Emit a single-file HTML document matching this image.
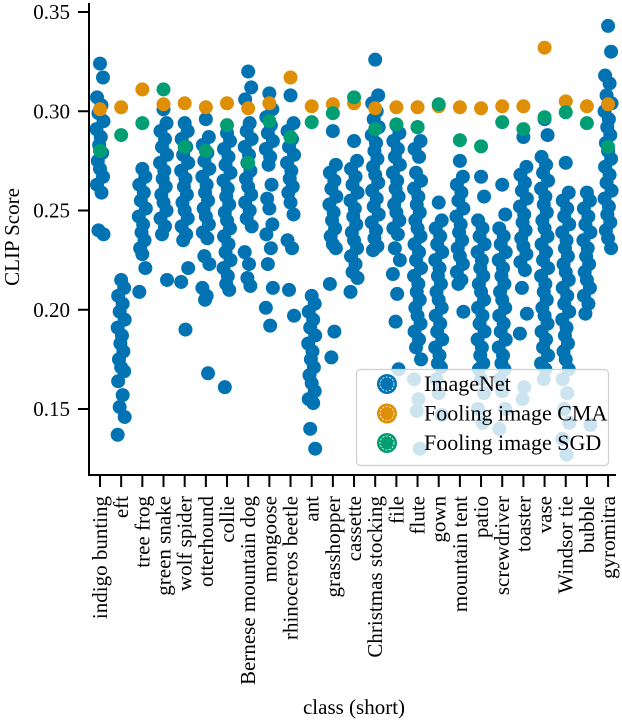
<!DOCTYPE html>
<html><head><meta charset="utf-8"><style>
html,body{margin:0;padding:0;background:#fff;}
svg{display:block;font-family:"Liberation Serif",serif;}
</style></head><body>
<svg id="chart" width="622" height="720" xmlns="http://www.w3.org/2000/svg">
<g id="points"></g>
<g id="axes"></g>
<g id="legend"></g>
</svg>
<script>
const categories = ["indigo bunting","eft","tree frog","green snake","wolf spider","otterhound","collie","Bernese mountain dog","mongoose","rhinoceros beetle","ant","grasshopper","cassette","Christmas stocking","file","flute","gown","mountain tent","patio","screwdriver","toaster","vase","Windsor tie","bubble","gyromitra"];
const imagenet = [
[0.324,0.317,0.307,0.303,0.299,0.295,0.291,0.287,0.283,0.279,0.275,0.271,0.267,0.263,0.259,0.240,0.238],
[0.215,0.211,0.207,0.203,0.199,0.195,0.191,0.187,0.183,0.179,0.175,0.171,0.169,0.164,0.157,0.151,0.146,0.137],
[0.271,0.267,0.263,0.259,0.255,0.251,0.247,0.243,0.239,0.235,0.231,0.228,0.221,0.209],
[0.301,0.294,0.290,0.286,0.282,0.278,0.274,0.270,0.266,0.262,0.258,0.254,0.250,0.246,0.242,0.238,0.215],
[0.294,0.290,0.286,0.282,0.278,0.274,0.270,0.266,0.262,0.258,0.254,0.250,0.246,0.242,0.238,0.235,0.221,0.214,0.190],
[0.296,0.287,0.283,0.279,0.275,0.271,0.267,0.263,0.259,0.255,0.251,0.247,0.243,0.239,0.236,0.227,0.223,0.211,0.207,0.205,0.168],
[0.289,0.285,0.281,0.277,0.273,0.269,0.265,0.261,0.257,0.253,0.249,0.245,0.241,0.237,0.233,0.229,0.225,0.221,0.217,0.213,0.210,0.161],
[0.320,0.312,0.306,0.294,0.290,0.286,0.282,0.278,0.274,0.270,0.266,0.262,0.258,0.254,0.250,0.246,0.242,0.229,0.223,0.216,0.212],
[0.309,0.301,0.297,0.293,0.289,0.285,0.281,0.277,0.273,0.263,0.256,0.251,0.243,0.238,0.231,0.223,0.211,0.201,0.192],
[0.308,0.294,0.290,0.286,0.282,0.278,0.274,0.270,0.266,0.262,0.259,0.254,0.248,0.235,0.231,0.210,0.197],
[0.207,0.203,0.199,0.195,0.191,0.187,0.183,0.179,0.175,0.171,0.167,0.163,0.159,0.155,0.153,0.140,0.130],
[0.290,0.273,0.269,0.265,0.261,0.257,0.253,0.249,0.245,0.241,0.237,0.233,0.231,0.213,0.189,0.176],
[0.285,0.275,0.271,0.267,0.263,0.259,0.255,0.251,0.247,0.243,0.239,0.235,0.231,0.227,0.223,0.219,0.216,0.209],
[0.326,0.308,0.304,0.300,0.296,0.292,0.288,0.284,0.280,0.276,0.272,0.268,0.264,0.260,0.256,0.252,0.248,0.244,0.240,0.236,0.232,0.230],
[0.293,0.289,0.285,0.281,0.277,0.273,0.269,0.265,0.261,0.257,0.253,0.249,0.245,0.241,0.238,0.231,0.225,0.218,0.208,0.194,0.170],
[0.292,0.285,0.281,0.277,0.269,0.265,0.261,0.257,0.253,0.249,0.245,0.241,0.237,0.233,0.229,0.225,0.221,0.217,0.213,0.209,0.205,0.201,0.197,0.193,0.189,0.185,0.181,0.175,0.165,0.155,0.149,0.130],
[0.254,0.245,0.241,0.237,0.233,0.229,0.225,0.221,0.217,0.213,0.209,0.205,0.201,0.197,0.193,0.189,0.185,0.181,0.177,0.173,0.171,0.165,0.158,0.147],
[0.275,0.267,0.263,0.259,0.255,0.251,0.247,0.243,0.239,0.235,0.231,0.227,0.223,0.219,0.215,0.213,0.199],
[0.267,0.257,0.245,0.241,0.237,0.233,0.229,0.225,0.221,0.217,0.213,0.209,0.205,0.201,0.197,0.193,0.189,0.185,0.181,0.177,0.173,0.170,0.165,0.158,0.150,0.143],
[0.263,0.248,0.241,0.237,0.233,0.229,0.225,0.221,0.217,0.213,0.209,0.205,0.201,0.197,0.193,0.189,0.185,0.181,0.177,0.173,0.170,0.165,0.159,0.150,0.140],
[0.287,0.272,0.268,0.264,0.260,0.256,0.252,0.248,0.244,0.240,0.236,0.232,0.228,0.224,0.220,0.211,0.198,0.188,0.161,0.155],
[0.296,0.288,0.277,0.273,0.269,0.265,0.261,0.257,0.253,0.249,0.245,0.241,0.237,0.233,0.229,0.225,0.221,0.217,0.213,0.209,0.205,0.201,0.197,0.193,0.189,0.185,0.181,0.177,0.173,0.170,0.165],
[0.274,0.259,0.255,0.251,0.247,0.243,0.239,0.235,0.231,0.227,0.223,0.219,0.215,0.211,0.207,0.203,0.199,0.195,0.191,0.187,0.183,0.179,0.175,0.170,0.165,0.158,0.150,0.143,0.135,0.127],
[0.259,0.255,0.251,0.247,0.243,0.239,0.235,0.231,0.227,0.223,0.219,0.215,0.211,0.207,0.203,0.198,0.142],
[0.343,0.330,0.318,0.314,0.308,0.304,0.300,0.296,0.292,0.288,0.284,0.280,0.276,0.272,0.268,0.264,0.260,0.256,0.252,0.248,0.244,0.240,0.236,0.231]
];
const cma = [0.301,0.302,0.311,0.3035,0.304,0.302,0.304,0.3015,0.304,0.317,0.3025,0.3035,0.304,0.3015,0.302,0.302,0.3025,0.302,0.3015,0.3025,0.3025,0.332,0.305,0.3025,0.3035];
const sgd = [0.280,0.288,0.294,0.311,0.282,0.280,0.293,0.274,0.295,0.287,0.2945,0.299,0.307,0.291,0.2934,0.292,0.3035,0.2854,0.2823,0.2945,0.291,0.297,0.2995,0.294,0.282];
const yTicks = [0.15,0.20,0.25,0.30,0.35];
const yTickLabels = ["0.15","0.20","0.25","0.30","0.35"];

const NS="http://www.w3.org/2000/svg";
const X0=100, DX=21.17, BOTTOM=475, LEFT=89;
function xScale(i){return X0+i*DX;}
function yScale(v){return 409-(v-0.15)*1985;}
function mk(tag,attrs,parent){const e=document.createElementNS(NS,tag);for(const k in attrs)e.setAttribute(k,attrs[k]);parent.appendChild(e);return e;}
const gp=document.getElementById('points'), ga=document.getElementById('axes'), gl=document.getElementById('legend');
const COL={imagenet:"#0173b2",cma:"#de8f05",sgd:"#029e73"};
const jit=[0,3,-3,1.5,-1.5,3.5,-3.5,0.8,-0.8,2.2,-2.2];
imagenet.forEach((arr,i)=>{arr.forEach((v,j)=>{
  const c=mk('circle',{cx:xScale(i)+jit[j%jit.length],cy:yScale(v),r:7,fill:COL.imagenet},gp);
  
  
});});
cma.forEach((v,i)=>{
  const c=mk('circle',{cx:xScale(i),cy:yScale(v),r:7,fill:COL.cma},gp);
  
  
});
sgd.forEach((v,i)=>{
  const c=mk('circle',{cx:xScale(i),cy:yScale(v),r:7,fill:COL.sgd},gp);
  
  
});
const ys=mk('line',{x1:LEFT,y1:3,x2:LEFT,y2:BOTTOM+1,stroke:"#000","stroke-width":2},ga);


const xs=mk('line',{x1:LEFT-1,y1:BOTTOM,x2:616,y2:BOTTOM,stroke:"#000","stroke-width":2},ga);


yTicks.forEach((v,k)=>{
  const y=yScale(v);
  const t=mk('line',{x1:LEFT-11,y1:y,x2:LEFT,y2:y,stroke:"#000","stroke-width":2},ga);
  
  
  const tx=mk('text',{x:LEFT-19,y:y+7,"text-anchor":"end","font-size":21},ga);
  tx.textContent=yTickLabels[k];
  
  
});
categories.forEach((c,i)=>{
  const x=xScale(i);
  const t=mk('line',{x1:x,y1:BOTTOM,x2:x,y2:BOTTOM+12,stroke:"#000","stroke-width":2},ga);
  
  
  const tx=mk('text',{x:0,y:0,"text-anchor":"end","font-size":21,transform:`translate(${x+7},${BOTTOM+21}) rotate(-90)`},ga);
  tx.textContent=c;
  
  
});
const yt=mk('text',{x:0,y:0,"text-anchor":"middle","font-size":21,transform:"translate(19,237) rotate(-90)"},ga);
yt.textContent="CLIP Score";


const xt=mk('text',{x:354,y:714,"text-anchor":"middle","font-size":21},ga);
xt.textContent="class (short)";


const box=mk('rect',{x:356.5,y:369.5,width:252,height:96,rx:4,fill:"#fff","fill-opacity":0.8,stroke:"#d0d0d0","stroke-width":1.2},gl);


const legItems=[["ImageNet",COL.imagenet,"legend-entry-imagenet"],["Fooling image CMA",COL.cma,"legend-entry-cma"],["Fooling image SGD",COL.sgd,"legend-entry-sgd"]];
legItems.forEach((it,k)=>{
  const y=384+k*29.5;
  const m=mk('circle',{cx:387,cy:y,r:10,fill:it[1]},gl);
  
  
  mk('circle',{cx:387,cy:y,r:7,fill:"none",stroke:"#fff","stroke-width":0.8,"stroke-dasharray":"2 1.5"},gl);
  const tx=mk('text',{x:424,y:y+7,"font-size":22},gl);
  tx.textContent=it[0];
  
  
});
</script>
</body></html>
